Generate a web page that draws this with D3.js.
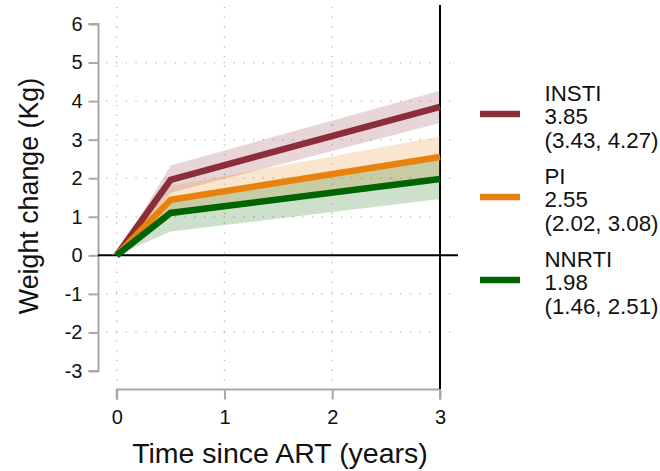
<!DOCTYPE html>
<html><head><meta charset="utf-8">
<script src="https://cdn.jsdelivr.net/npm/d3@7"></script>
<style>body{margin:0;background:#fff}svg{display:block;font-family:"Liberation Sans",Arial,sans-serif}</style>
</head><body><svg id="c" width="660" height="471"></svg>
<script>
const times = [0, 0.5, 3];
const seriesNames = ["INSTI", "PI", "NNRTI"];
const seriesColors = ["#8B2E3A", "#E8820C", "#006400"];
const estimates = [[0, 1.96, 3.85], [0, 1.44, 2.55], [0, 1.10, 1.98]];
const lowerCI = [[0, 1.62, 3.43], [0, 1.12, 2.02], [0, 0.62, 1.46]];
const upperCI = [[0, 2.33, 4.27], [0, 1.80, 3.08], [0, 1.52, 2.51]];
const legendValues = ["3.85", "2.55", "1.98"];
const legendCIs = ["(3.43, 4.27)", "(2.02, 3.08)", "(1.46, 2.51)"];
const xTicks = [0, 1, 2, 3];
const yTicks = [-3, -2, -1, 0, 1, 2, 3, 4, 5, 6];
const xGrid = [0, 1, 2, 3];
const yGrid = [-2, -1, 1, 2, 3, 4, 5];

const svg = d3.select("#c");
const x = d3.scaleLinear().domain([0, 3]).range([116.7, 440]);
const y = d3.scaleLinear().domain([-3, 6]).range([371, 24]);

// grid
svg.append("g").selectAll("line").data(yGrid).join("line")
  .attr("x1", 106).attr("x2", 456).attr("y1", d => y(d)).attr("y2", d => y(d))
  .attr("stroke", "#b8b8b8").attr("stroke-width", 1.3).attr("stroke-dasharray", "1.3,8.5");
svg.append("g").selectAll("line").data(xGrid).join("line")
  .attr("x1", d => x(d)).attr("x2", d => x(d)).attr("y1", 7).attr("y2", 386)
  .attr("stroke", "#b8b8b8").attr("stroke-width", 1.3).attr("stroke-dasharray", "1.3,8.5");

// axes
const fmt = d => String(d);
const yAxis = d3.axisLeft(y).tickValues(yTicks).tickSize(10).tickPadding(6).tickFormat(fmt);
const gy = svg.append("g").attr("transform", "translate(98.5,0)").call(yAxis);
const xAxis = d3.axisBottom(x).tickValues(xTicks).tickSize(10).tickPadding(10).tickFormat(fmt);
const gx = svg.append("g").attr("transform", "translate(0,389.5)").call(xAxis);
[gy, gx].forEach(g => {
  g.select(".domain").attr("stroke", "#a8a8a8").attr("stroke-width", 2);
  g.selectAll(".tick line").attr("stroke", "#a8a8a8").attr("stroke-width", 2);
  g.selectAll(".tick text").attr("font-size", 20).attr("fill", "#111").attr("font-family", "Liberation Sans, Arial, sans-serif");
});
gy.select(".domain").attr("d", `M-10,${y(6)}H0V${y(-3)}H-10`);
gx.select(".domain").attr("d", `M${x(0)},10V0H${x(3)}V10`);

// reference lines
svg.append("line").attr("x1", 98).attr("x2", 458).attr("y1", y(0)).attr("y2", y(0)).attr("stroke", "#000").attr("stroke-width", 2);
svg.append("line").attr("x1", x(3)).attr("x2", x(3)).attr("y1", 5).attr("y2", 389).attr("stroke", "#000").attr("stroke-width", 2);

// bands
const area = d3.area().x((d, i) => x(times[i])).y0(d => y(d[0])).y1(d => y(d[1]));
seriesNames.forEach((s, k) => {
  const pts = times.map((t, i) => [lowerCI[k][i], upperCI[k][i]]);
  svg.append("path").attr("d", area(pts)).attr("fill", seriesColors[k]).attr("fill-opacity", 0.2);
});
const line = d3.line().x((d, i) => x(times[i])).y(d => y(d));
seriesNames.forEach((s, k) => {
  svg.append("path").attr("d", line(estimates[k])).attr("fill", "none")
    .attr("stroke", seriesColors[k]).attr("stroke-width", 6.5).attr("stroke-linejoin", "miter");
});

// axis titles
svg.append("text").attr("x", 280).attr("y", 463).attr("text-anchor", "middle").attr("font-size", 28.5).attr("fill", "#111").text("Time since ART (years)");
svg.append("text").attr("transform", "translate(38,196) rotate(-90)").attr("text-anchor", "middle").attr("font-size", 26.8).attr("fill", "#111").text("Weight change (Kg)");

// legend
const legY = [114, 197, 280];
seriesNames.forEach((s, k) => {
  const g = svg.append("g");
  g.append("line").attr("x1", 480).attr("x2", 520).attr("y1", legY[k]).attr("y2", legY[k])
    .attr("stroke", seriesColors[k]).attr("stroke-width", 6.5);
  const lines = [s, legendValues[k], legendCIs[k]];
  lines.forEach((t, j) => {
    g.append("text").attr("x", 544.5).attr("y", legY[k] - 13 + j * 23.3).attr("font-size", 22.3).attr("fill", "#111").text(t);
  });
});
</script></body></html>
